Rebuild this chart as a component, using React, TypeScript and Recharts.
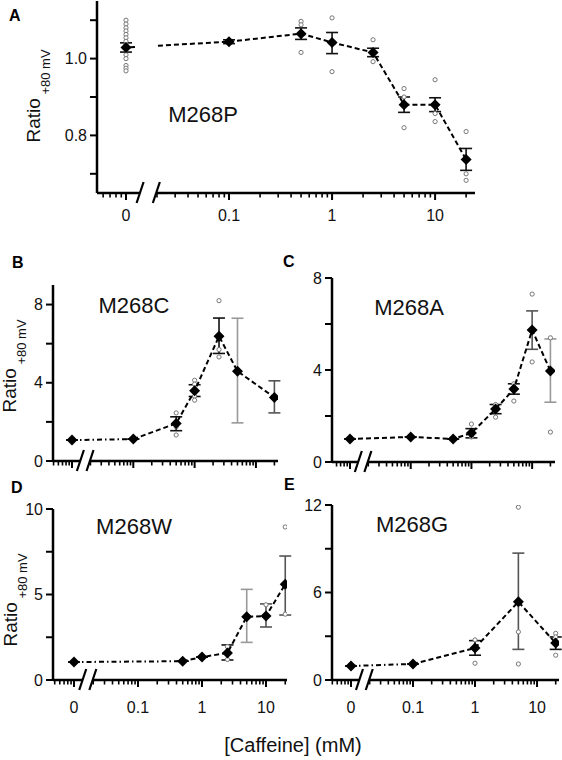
import React from 'react'
import { ScatterChart, Scatter, XAxis, YAxis, ErrorBar, ReferenceLine } from 'recharts'

// "0" mM is drawn one decade left of 0.1 on the log axis, behind the break
const ZERO_AT = 0.01
const BREAK_AT = [0.0137, 0.0197]

const X_MAJOR = [0.01, 0.1, 1, 10]
const X_MAJOR_LABELS = ['0', '0.1', '1', '10']
const X_MINOR_STEPS = [2, 3, 4, 5, 6, 7, 8, 9]
const X_DECADES = [0.001, 0.01, 0.1, 1, 10]

// A - M268P
const concA = [0, 0.1, 0.5, 1, 2.5, 5, 10, 20]
const meanA = [1.029, 1.044, 1.065, 1.042, 1.016, 0.88, 0.88, 0.737]
const lowA = [1.017, 1.039, 1.05, 1.013, 1.005, 0.86, 0.862, 0.709]
const highA = [1.041, 1.049, 1.08, 1.068, 1.027, 0.9, 0.898, 0.766]
const toneA = ['k', 'k', 'k', 'k', 'k', 'k', 'k', 'k']
const dotsA = [
  [1.1, 1.09, 1.08, 1.072, 1.063, 1.054, 1.045, 1.035, 1.01, 1.0, 0.982, 0.975, 0.968],
  [],
  [1.097, 1.088, 1.016],
  [1.106, 0.966],
  [1.049, 0.992],
  [0.922, 0.9, 0.82],
  [0.945, 0.857, 0.836],
  [0.81, 0.7, 0.683],
]

// B - M268C
const concB = [0, 0.1, 0.5, 1, 2.5, 5, 20]
const meanB = [1.07, 1.12, 1.92, 3.59, 6.38, 4.59, 3.25]
const lowB = [1.07, 1.12, 1.55, 3.3, 5.5, 1.95, 2.46]
const highB = [1.07, 1.12, 2.26, 3.9, 7.31, 7.3, 4.1]
const toneB = ['k', 'k', 'k', 'k', 'k', 'l', 'm']
const dotsB = [[], [], [2.46, 1.75, 1.33], [4.13, 3.93, 3.32, 3.11], [8.2, 5.7, 5.32], [], []]

// C - M268A
const concC = [0, 0.1, 0.5, 1, 2.5, 5, 10, 20]
const meanC = [1.0, 1.09, 1.0, 1.26, 2.3, 3.17, 5.74, 3.96]
const lowC = [1.0, 1.09, 1.0, 1.05, 2.1, 2.95, 4.9, 2.6]
const highC = [1.0, 1.09, 1.0, 1.45, 2.5, 3.4, 6.57, 5.35]
const toneC = ['k', 'k', 'k', 'k', 'k', 'k', 'm', 'l']
const dotsC = [[], [], [], [1.65, 1.09], [2.5, 1.95], [3.4, 2.65], [7.3, 4.35], [5.4, 1.3]]

// D - M268W
const concD = [0, 0.5, 1, 2.5, 5, 10, 20]
const meanD = [1.05, 1.1, 1.34, 1.58, 3.7, 3.74, 5.6]
const lowD = [1.05, 1.1, 1.34, 1.17, 2.2, 3.1, 3.8]
const highD = [1.05, 1.1, 1.34, 2.05, 5.3, 4.45, 7.25]
const toneD = ['k', 'k', 'k', 'k', 'l', 'm', 'm']
const dotsD = [[], [], [], [1.95, 1.2], [], [4.4], [8.95, 3.85]]

// E - M268G
const concE = [0, 0.1, 1, 5, 20]
const meanE = [0.96, 1.1, 2.2, 5.36, 2.53]
const lowE = [0.96, 1.1, 1.7, 2.1, 2.1]
const highE = [0.96, 1.1, 2.7, 8.7, 2.95]
const toneE = ['k', 'k', 'k', 'm', 'k']
const dotsE = [[], [], [2.75, 1.15], [11.85, 3.3, 1.1], [3.2, 2.95, 1.7]]

const FONT = '"Liberation Sans", Arial, Helvetica, sans-serif'
const TONES: Record<string, string> = { k: '#111', m: '#555', l: '#999' }
const PAD_L = 45
const PAD_T = 10
const PAD_R = 12
const PAD_B = 40

interface PanelCfg {
  box: { left: number; top: number; right: number; bottom: number }
  xDomain: [number, number]
  yDomain: [number, number]
  yTicks: number[]
  yLabeled: number[]
  yDigits: number
  xLabelGap: number | null
  leadDash: string
  conc: number[]
  mean: number[]
  low: number[]
  high: number[]
  tone: string[]
  dots: number[][]
}

const panels: PanelCfg[] = [
  {
    box: { left: 97, top: 1, right: 475, bottom: 193 },
    xDomain: [0.00523, 24.4],
    yDomain: [0.65, 1.15],
    yTicks: [0.7, 0.8, 0.9, 1.0, 1.1],
    yLabeled: [0.8, 1.0],
    yDigits: 1,
    xLabelGap: 22,
    // first segment is interrupted where it crosses the axis break
    leadDash: '9 23 ' + '5 3 '.repeat(10),
    conc: concA, mean: meanA, low: lowA, high: highA, tone: toneA, dots: dotsA,
  },
  {
    box: { left: 53, top: 285, right: 278, bottom: 461 },
    xDomain: [0.0049, 22.9],
    yDomain: [0, 9],
    yTicks: [0, 2, 4, 6, 8],
    yLabeled: [0, 4, 8],
    yDigits: 0,
    xLabelGap: null,
    leadDash: '5 3 1.5 3',
    conc: concB, mean: meanB, low: lowB, high: highB, tone: toneB, dots: dotsB,
  },
  {
    box: { left: 332, top: 278, right: 555, bottom: 462 },
    xDomain: [0.00505, 23.8],
    yDomain: [0, 8],
    yTicks: [0, 2, 4, 6, 8],
    yLabeled: [0, 4, 8],
    yDigits: 0,
    xLabelGap: null,
    leadDash: '5 3',
    conc: concC, mean: meanC, low: lowC, high: highC, tone: toneC, dots: dotsC,
  },
  {
    box: { left: 53, top: 509, right: 287, bottom: 680 },
    xDomain: [0.0047, 21.3],
    yDomain: [0, 10],
    yTicks: [0, 2.5, 5, 7.5, 10],
    yLabeled: [0, 5, 10],
    yDigits: 0,
    xLabelGap: 27,
    leadDash: '5 3 1.5 3',
    conc: concD, mean: meanD, low: lowD, high: highD, tone: toneD, dots: dotsD,
  },
  {
    box: { left: 332, top: 505, right: 559, bottom: 680 },
    xDomain: [0.00494, 22.6],
    yDomain: [0, 12],
    yTicks: [0, 3, 6, 9, 12],
    yLabeled: [0, 6, 12],
    yDigits: 0,
    xLabelGap: 27,
    leadDash: '5 3 1.5 3',
    conc: concE, mean: meanE, low: lowE, high: highE, tone: toneE, dots: dotsE,
  },
]

const titles = [
  { text: 'M268P', x: 203, y: 122 },
  { text: 'M268C', x: 134, y: 313 },
  { text: 'M268A', x: 409, y: 315 },
  { text: 'M268W', x: 134, y: 534 },
  { text: 'M268G', x: 412, y: 532 },
]
const letters = [
  { text: 'A', x: 9, y: 21 },
  { text: 'B', x: 12, y: 268 },
  { text: 'C', x: 283, y: 267 },
  { text: 'D', x: 11, y: 493 },
  { text: 'E', x: 284, y: 490 },
]
const ratioLabels = [
  { x: 40, y: 96 },
  { x: 16, y: 366 },
  { x: 17, y: 600 },
]

const diamond = (p: any) => {
  if (p.cx == null || p.cy == null) return <g />
  const { cx, cy } = p
  return <polygon points={`${cx - 5.5},${cy} ${cx},${cy - 5.5} ${cx + 5.5},${cy} ${cx},${cy + 5.5}`} fill="#000" />
}
const ring = (p: any) => {
  if (p.cx == null || p.cy == null) return <g />
  return <circle cx={p.cx} cy={p.cy} r={2.1} fill="#fff" stroke="#777" strokeWidth={1} />
}
const nothing = () => <g />

function Panel({ cfg }: { cfg: PanelCfg }) {
  const { box, xDomain, yDomain } = cfg
  const plotW = box.right - box.left
  const plotH = box.bottom - box.top
  const pos = (c: number) => (c === 0 ? ZERO_AT : c)

  const rows = cfg.conc.map((c, i) => ({
    x: pos(c),
    y: cfg.mean[i],
    err: [cfg.mean[i] - cfg.low[i], cfg.high[i] - cfg.mean[i]],
    tone: cfg.tone[i],
  }))
  const dots = cfg.conc.flatMap((c, i) => cfg.dots[i].map((v) => ({ x: pos(c), y: v })))

  const xTicks = X_DECADES.flatMap((d) => [d, ...X_MINOR_STEPS.map((s) => s * d)]).filter(
    (t) => t >= xDomain[0] && t <= xDomain[1]
  )

  // axis break drawn in data space
  const decPx = plotW / Math.log10(xDomain[1] / xDomain[0])
  const yPerPx = (yDomain[1] - yDomain[0]) / plotH
  const f = Math.pow(10, 3.5 / decPx)
  const y0 = yDomain[0]

  const xTick = (p: any) => {
    const v = p.payload.value
    const idx = X_MAJOR.findIndex((m) => Math.abs(m - v) < 1e-9)
    const major = idx >= 0
    return (
      <g>
        <line x1={p.x} x2={p.x} y1={p.y} y2={p.y + (major ? 7 : 4.5)} stroke="#000" strokeWidth={major ? 2 : 1.6} />
        {major && cfg.xLabelGap != null && (
          <text x={p.x} y={p.y + cfg.xLabelGap} dy="0.35em" textAnchor="middle" fontSize={16} fontFamily={FONT} fill="#111">
            {X_MAJOR_LABELS[idx]}
          </text>
        )}
      </g>
    )
  }
  const yTick = (p: any) => {
    const v = p.payload.value
    const lab = cfg.yLabeled.includes(v)
    return (
      <g>
        <line x1={p.x - 7} x2={p.x} y1={p.y} y2={p.y} stroke="#000" strokeWidth={2} />
        {lab && (
          <text x={p.x - 10} y={p.y} dy="0.35em" textAnchor="end" fontSize={16} fontFamily={FONT} fill="#111">
            {v.toFixed(cfg.yDigits)}
          </text>
        )}
      </g>
    )
  }

  return (
    <div
      style={{
        position: 'absolute',
        left: box.left - PAD_L,
        top: box.top - PAD_T,
        width: plotW + PAD_L + PAD_R,
        height: plotH + PAD_T + PAD_B,
      }}
    >
      <ScatterChart
        width={plotW + PAD_L + PAD_R}
        height={plotH + PAD_T + PAD_B}
        margin={{ top: PAD_T, right: PAD_R, bottom: 0, left: 0 }}
      >
        <XAxis
          type="number"
          dataKey="x"
          scale="log"
          domain={xDomain}
          allowDataOverflow
          ticks={xTicks}
          interval={0}
          tick={xTick}
          tickLine={false}
          tickSize={0}
          tickMargin={0}
          axisLine={false}
          height={PAD_B}
        />
        <YAxis
          type="number"
          dataKey="y"
          domain={yDomain}
          allowDataOverflow
          ticks={cfg.yTicks}
          interval={0}
          tick={yTick}
          tickLine={false}
          tickSize={0}
          tickMargin={0}
          axisLine={{ stroke: '#000', strokeWidth: 2.5 }}
          width={PAD_L}
        />
        <ReferenceLine
          segment={[{ x: xDomain[0], y: y0 }, { x: BREAK_AT[0], y: y0 }]}
          stroke="#000"
          strokeWidth={2.5}
          ifOverflow="visible"
        />
        <ReferenceLine
          segment={[{ x: BREAK_AT[1], y: y0 }, { x: xDomain[1], y: y0 }]}
          stroke="#000"
          strokeWidth={2.5}
          ifOverflow="visible"
        />
        {BREAK_AT.map((b) => (
          <ReferenceLine
            key={b}
            segment={[
              { x: b / f, y: y0 - 10 * yPerPx },
              { x: b * f, y: y0 + 11 * yPerPx },
            ]}
            stroke="#000"
            strokeWidth={2.2}
            ifOverflow="visible"
          />
        ))}
        <Scatter data={dots} shape={ring} isAnimationActive={false} />
        {Object.keys(TONES).map((t) => (
          <Scatter key={t} data={rows.filter((r) => r.tone === t)} shape={nothing} isAnimationActive={false}>
            <ErrorBar dataKey="err" direction="y" width={6} stroke={TONES[t]} strokeWidth={1.6} isAnimationActive={false} />
          </Scatter>
        ))}
        <Scatter
          data={rows.slice(0, 2)}
          shape={nothing}
          line={{ stroke: '#000', strokeWidth: 2, strokeDasharray: cfg.leadDash }}
          isAnimationActive={false}
        />
        <Scatter
          data={rows.slice(1)}
          shape={nothing}
          line={{ stroke: '#000', strokeWidth: 2, strokeDasharray: '5 3' }}
          isAnimationActive={false}
        />
        <Scatter data={rows} shape={diamond} isAnimationActive={false} />
      </ScatterChart>
    </div>
  )
}

export default function App() {
  return (
    <div style={{ position: 'absolute', left: 0, top: 0, width: 562, height: 760, background: '#fff', fontFamily: FONT }}>
      {panels.map((cfg, i) => (
        <Panel key={i} cfg={cfg} />
      ))}
      <svg width={562} height={760} style={{ position: 'absolute', left: 0, top: 0, pointerEvents: 'none' }}>
        {letters.map((l) => (
          <text key={l.text} x={l.x} y={l.y} fontSize={16} fontWeight="bold" fontFamily={FONT} fill="#000">
            {l.text}
          </text>
        ))}
        {titles.map((t) => (
          <text key={t.text} x={t.x} y={t.y} textAnchor="middle" fontSize={22} fontFamily={FONT} fill="#111">
            {t.text}
          </text>
        ))}
        {ratioLabels.map((r, i) => (
          <text
            key={i}
            transform="rotate(-90)"
            x={-r.y}
            y={r.x}
            textAnchor="middle"
            fontSize={19}
            fontFamily={FONT}
            fill="#111"
          >
            Ratio
            <tspan fontSize={13} dy={10}>
              {' +80 mV'}
            </tspan>
          </text>
        ))}
        <text x={293} y={752} textAnchor="middle" fontSize={20} fontFamily={FONT} fill="#111">
          [Caffeine] (mM)
        </text>
      </svg>
    </div>
  )
}
